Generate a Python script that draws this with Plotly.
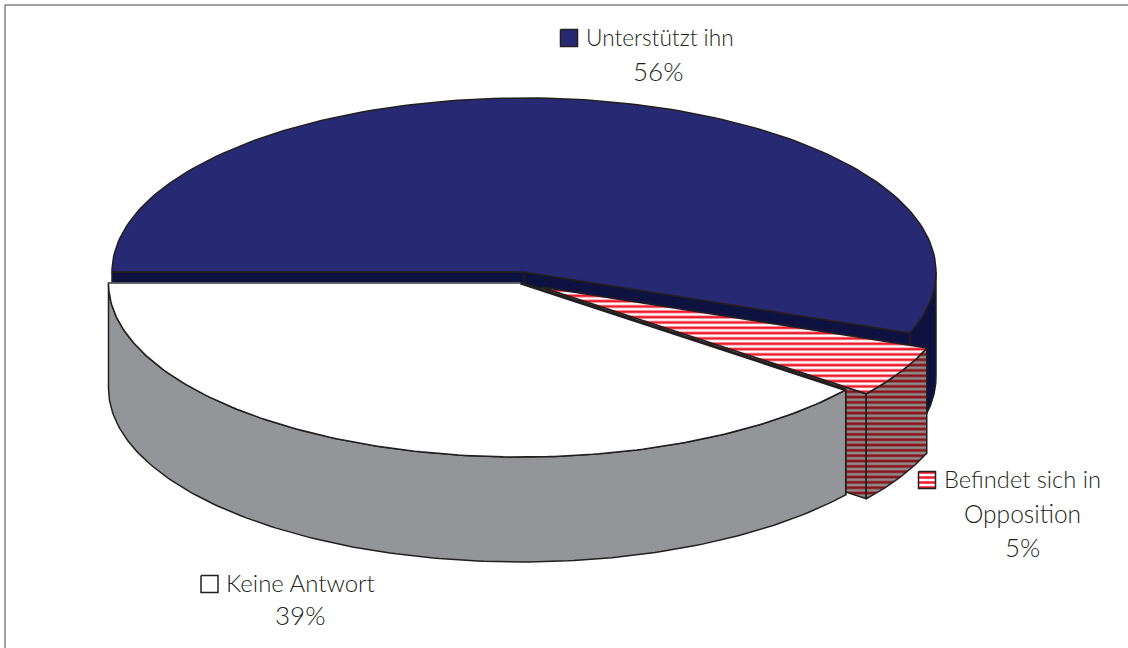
import numpy as np
import plotly.graph_objects as go

categories = ["Unterstützt ihn", "Befindet sich in Opposition", "Keine Antwort"]
values = [55.6, 4.8, 39.4]
value_labels = ["56%", "5%", "39%"]

RX, RY, DEPTH = 412, 174, 105
INK = "#231f20"
NAVY, NAVY_WALL, GREY = "#272a73", "#0d1240", "#939598"
FONT = "Lato Light, Lato"

# slice angle limits (degrees, clockwise from the left-hand side of the pie)
shares = np.array(values) / sum(values) * 360
a0 = 180.0
bounds = []
for s in shares:
    bounds.append((a0, a0 - s))
    a0 -= s
centres = [(524, 272), (541, 287), (520.5, 283)]


def arc(c, a, b, dz=0, n=160):
    t = np.radians(np.linspace(a, b, n))
    return c[0] + RX * np.cos(t), c[1] - RY * np.sin(t) + dz


fig = go.Figure()


def poly(x, y, fill=None, pattern=None, lw=1.5, lc=INK):
    kw = dict(fillpattern=pattern) if pattern else {}
    fig.add_trace(go.Scatter(x=list(x), y=list(y), mode="lines", fill="toself",
                             fillcolor=fill, line=dict(color=lc, width=lw),
                             hoverinfo="skip", showlegend=False, **kw))


def cut_wall(c, p, fill=None, pattern=None, lw=1.5):
    poly([c[0], p[0], p[0], c[0], c[0]],
         [c[1], p[1], p[1] + DEPTH, c[1] + DEPTH, c[1]], fill, pattern, lw)


def side_wall(c, a, b, fill=None, pattern=None):
    x1, y1 = arc(c, a, b)
    x2, y2 = arc(c, b, a, DEPTH)
    poly(np.r_[x1, x2, x1[0]], np.r_[y1, y2, y1[0]], fill, pattern)


def top(c, a, b, fill=None, pattern=None, lw=1.5):
    x, y = arc(c, a, b)
    poly(np.r_[c[0], x, c[0]], np.r_[c[1], y, c[1]], fill, pattern, lw)


top_stripes = dict(shape="-", bgcolor="#ffffff", fgcolor="#ed1c2e", size=5.33, solidity=0.5, fillmode="replace")
wall_stripes = dict(shape="-", bgcolor="#8c8c8c", fgcolor="#8b1219", size=5.33, solidity=0.5, fillmode="replace")

# blue slice
c = centres[0]; a, b = bounds[0]
side_wall(c, 0, b, NAVY_WALL)
ex, ey = arc(c, b, b, n=1)
cut_wall(c, (ex[0], ey[0]), NAVY_WALL)
poly([c[0] - RX, c[0], c[0], c[0] - RX, c[0] - RX],
     [c[1], c[1], c[1] + DEPTH, c[1] + DEPTH, c[1]], NAVY_WALL)
top(c, a, b, NAVY)

# striped slice
c = centres[1]; a, b = bounds[1]
ex, ey = arc(c, b, b, n=1)
cut_wall(c, (ex[0], ey[0]), "#8c8c8c", wall_stripes)
side_wall(c, a, b, "#8c8c8c", wall_stripes)
top(c, a, b, "#ffffff", top_stripes)

# white slice
c = centres[2]; a, b = bounds[2]
ex, ey = arc(c, a, a, n=1)
cut_wall(c, (ex[0], ey[0]), GREY)
side_wall(c, a, b, GREY)
top(c, a, b, "#ffffff")
fig.add_trace(go.Scatter(x=[c[0], ex[0]], y=[c[1], ey[0]], mode="lines",
                         line=dict(color=INK, width=3), hoverinfo="skip", showlegend=False))
fig.add_trace(go.Scatter(x=[c[0] - RX, c[0]], y=[c[1], c[1]], mode="lines",
                         line=dict(color="#6d6e71", width=1.5), hoverinfo="skip", showlegend=False))


# legend swatches
def swatch(x, y, fill, pattern=None):
    s = 8.5
    poly([x - s, x + s, x + s, x - s, x - s], [y - s, y - s, y + s, y + s, y - s], fill, pattern, 1.5)


swatch(569, 38, NAVY)
swatch(927, 480, "#ffffff", dict(top_stripes, size=5.0))
swatch(209.5, 584, "#ffffff")


def label(x, y, s, size, anchor="center"):
    fig.add_annotation(x=x, y=y, text=s, showarrow=False, xanchor=anchor, yanchor="middle",
                       font=dict(family=FONT, size=size, color=INK))


label(584, 37, categories[0], 22.7, "left")
label(658, 71, value_labels[0], 26)
label(942, 479, "Befindet sich in", 23.7, "left")
label(1022, 513, "Opposition", 24.5)
label(1022, 547, value_labels[1], 26)
label(224, 582, categories[2], 24, "left")
label(300, 615, value_labels[2], 26)

# frame: top and left rules only
FR = "#808285"
fig.add_shape(type="line", x0=5, x1=1128, y0=5, y1=5, line=dict(color=FR, width=1.5))
fig.add_shape(type="line", x0=5, x1=5, y0=5, y1=648, line=dict(color=FR, width=1.5))

fig.update_layout(width=1128, height=648, margin=dict(l=0, r=0, t=0, b=0),
                  paper_bgcolor="white", plot_bgcolor="white", showlegend=False,
                  xaxis=dict(range=[0, 1128], visible=False, fixedrange=True),
                  yaxis=dict(range=[648, 0], visible=False, fixedrange=True))
fig.write_html("out.html", config={"displayModeBar": False},
               post_script="document.body.style.margin='0';document.body.style.overflow='hidden';")
